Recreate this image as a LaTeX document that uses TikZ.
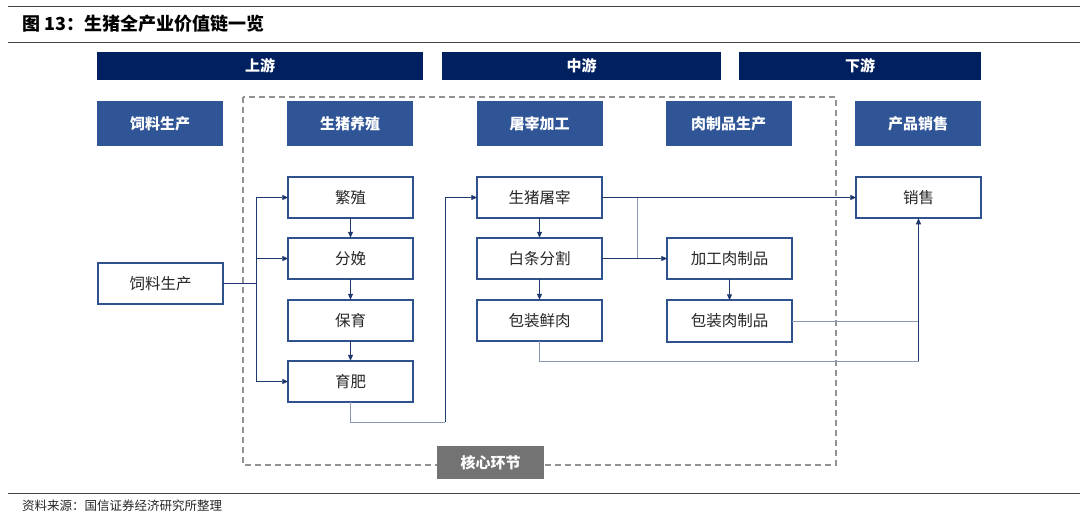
\documentclass[tikz,border=0pt]{standalone}
\usepackage{fontspec}
\setmainfont{Liberation Sans}
\newfontfamily\cjk{Noto Sans CJK SC}
\usetikzlibrary{arrows.meta}
\definecolor{navy}{RGB}{0,32,96}
\definecolor{catblue}{RGB}{47,85,151}
\definecolor{boxblue}{RGB}{47,82,143}
\definecolor{lnDark}{RGB}{31,56,110}
\definecolor{lnLight}{RGB}{140,150,182}
\definecolor{rulegray}{RGB}{64,64,64}
\tikzset{
  hdr/.style={fill=navy, text=white, inner sep=0pt, outer sep=0pt, minimum height=28pt,
    font=\cjk\bfseries\fontsize{15}{17}\selectfont},
  cat/.style={fill=catblue, text=white, inner sep=0pt, outer sep=0pt, minimum width=126pt, minimum height=45pt,
    font=\cjk\bfseries\fontsize{15}{17}\selectfont},
  stage/.style={draw=boxblue, line width=2pt, fill=white, inner sep=0pt, outer sep=0pt,
    minimum width=124.5pt, minimum height=41.5pt, font=\cjk\fontsize{15.5}{17}\selectfont, text=black!85},
  conn/.style={draw=lnDark, line width=0.9pt},
  connl/.style={draw=lnLight, line width=0.9pt},
  arr/.style={-{Triangle[length=6pt,width=5pt]}, lnDark},
  rulel/.style={draw=rulegray, line width=1pt},
}
\begin{document}
\begin{tikzpicture}[x=1pt,y=-1pt]
\useasboundingbox[fill=white] (0,0) rectangle (1080,523);
% title rules
\draw[rulel] (8,6) coordinate (r1a) -- (1080,6) coordinate (r1b);
\draw[rulel] (8,42) coordinate (r2a) -- (1080,42) coordinate (r2b);
\draw[rulel] (8,493) coordinate (r3a) -- (1080,493) coordinate (r3b);
\node[anchor=west, inner sep=0pt, font=\cjk\bfseries\fontsize{18}{20}\selectfont] (title) at (22,24) {图 13：生猪全产业价值链一览};
\node[anchor=west, inner sep=0pt, font=\cjk\fontsize{12.5}{14}\selectfont, text=black!85] (src) at (22,506) {资料来源：国信证券经济研究所整理};

% stream headers
\node[hdr, minimum width=326pt] (up) at (260,66) {上游};
\node[hdr, minimum width=279pt] (mid) at (581.5,66) {中游};
\node[hdr, minimum width=242pt] (down) at (860,66) {下游};

% core dashed frame
\draw[draw=gray!85, line width=1.6pt, dash pattern=on 6pt off 4pt] (243,97) rectangle (836,465);
\node[fill=gray!90!black, text=white, inner sep=0pt, minimum width=107pt, minimum height=33pt,
  font=\cjk\bfseries\fontsize{15}{17}\selectfont] (core) at (490.5,462.5) {核心环节};

% category headers
\node[cat] (c1) at (160,123.5) {饲料生产};
\node[cat] (c2) at (350,123.5) {生猪养殖};
\node[cat] (c3) at (539.5,123.5) {屠宰加工};
\node[cat] (c4) at (728.5,123.5) {肉制品生产};
\node[cat] (c5) at (918,123.5) {产品销售};

% stage boxes
\node[stage] (feed) at (160.5,283.5) {饲料生产};
\node[stage] (fz) at (350.5,197.5) {繁殖};
\node[stage] (fm) at (350.5,258.5) {分娩};
\node[stage] (by) at (350.5,320.5) {保育};
\node[stage] (yf) at (350.5,381.5) {育肥};
\node[stage] (tz) at (539.5,197.5) {生猪屠宰};
\node[stage] (bt) at (539.5,258.5) {白条分割};
\node[stage] (xr) at (539.5,320.5) {包装鲜肉};
\node[stage] (jg) at (729.5,258.5) {加工肉制品};
\node[stage] (rp) at (729.5,321) {包装肉制品};
\node[stage] (xs) at (918.5,197.5) {销售};

% helper coordinates
\coordinate (tr) at (256,0);
\coordinate (c2b) at (445,422);
\coordinate (br) at (637,0);
\coordinate (xrb) at (0,361);

% feed trunk
\draw[conn] (feed.east) -- (feed.east -| tr);
\draw[conn] (fz.west -| tr) -- (yf.west -| tr);
\draw[conn, arr] (fz.west -| tr) -- (fz.west);
\draw[connl, arr] (fm.west -| tr) -- (fm.west);
\draw[connl, arr] (yf.west -| tr) -- (yf.west);

% breeding chain
\draw[conn, arr] (fz.south) -- (fm.north);
\draw[conn, arr] (fm.south) -- (by.north);
\draw[conn, arr] (by.south) -- (yf.north);

% fattening to slaughter
\draw[connl] (yf.south) |- (c2b);
\draw[connl, arr] (c2b) |- (tz.west);

% slaughter chain
\draw[conn, arr] (tz.east) -- (xs.west);
\draw[connl] (tz.east -| br) -- (bt.east -| br);
\draw[conn, arr] (tz.south) -- (bt.north);
\draw[conn, arr] (bt.south) -- (xr.north);
\draw[conn, arr] (bt.east) -- (jg.west);
\draw[connl, arr] (jg.south) -- (rp.north);

% to sales
\draw[connl] (rp.east) -- (rp.east -| xs.south);
\draw[conn, arr] (rp.east -| xs.south) -- (xs.south);
\draw[connl] (xr.south) |- (xrb -| xs.south);
\draw[conn] (xrb -| xs.south) -- (rp.east -| xs.south);
\end{tikzpicture}
\end{document}
